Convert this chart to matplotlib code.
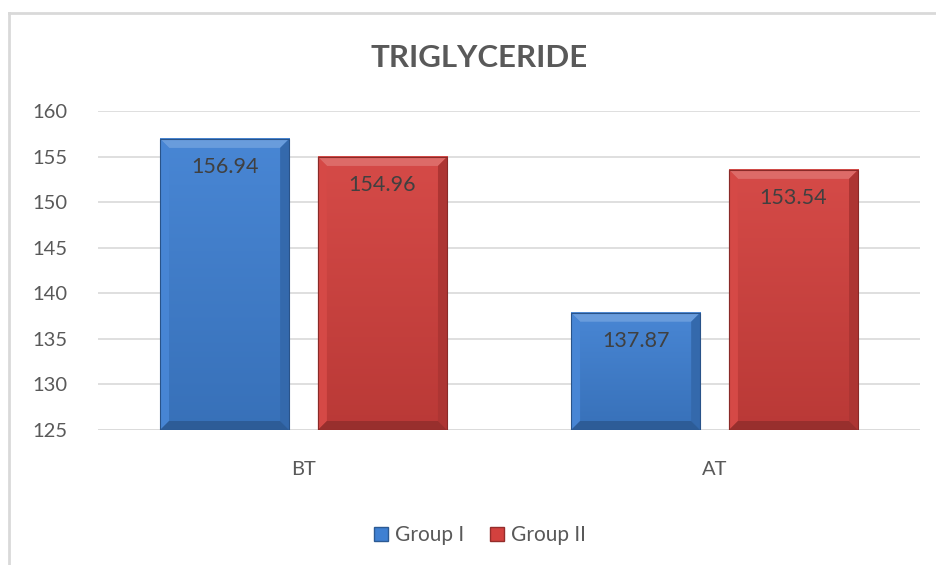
import matplotlib
matplotlib.use('Agg')
import matplotlib.pyplot as plt
import numpy as np
from matplotlib.patches import Polygon, Rectangle
from matplotlib.lines import Line2D
from matplotlib.colors import to_rgb

# Chart data.
categories = ['BT', 'AT']
series_names = ['Group I', 'Group II']
group1 = [156.94, 137.87]
group2 = [154.96, 153.54]
yticks = [125, 130, 135, 140, 145, 150, 155, 160]

FONT = ['Lato', 'DejaVu Sans']
TXT = '#595959'


def mix(c, t, w):
    """Blend colour c towards colour t by weight w."""
    c, t = np.array(to_rgb(c)), np.array(to_rgb(t))
    return tuple(c * (1 - w) + t * w)


def bevel_bar(ax, xc, w, y0, y1, base, px_x, px_y, inset=9):
    """
    Draw a bar with an Excel-like bevel: gradient face plus four bands.
    """
    x0, x1 = xc - w / 2, xc + w / 2
    dx, dy = inset * px_x, inset * px_y
    # Face with a vertical gradient (light on top, darker at the base).
    grad = np.linspace(0, 1, 64).reshape(-1, 1)
    top, bot = np.array(mix(base, 'white', 0.05)), np.array(mix(base, 'black', 0.12))
    img = top[None, None, :] * (1 - grad[:, :, None]) + bot[None, None, :] * grad[:, :, None]
    ax.imshow(img, extent=(x0, x1, y0, y1), aspect='auto', zorder=3,
              interpolation='bilinear', origin='upper')
    # Bevel bands.
    ax.add_patch(Polygon([(x0, y1), (x1, y1), (x1 - dx, y1 - dy), (x0 + dx, y1 - dy)],
                         closed=True, fc=mix(base, 'white', 0.22), ec='none', zorder=4))
    ax.add_patch(Polygon([(x0, y0), (x0, y1), (x0 + dx, y1 - dy), (x0 + dx, y0 + dy)],
                         closed=True, fc=mix(base, 'white', 0.04), ec='none', zorder=4))
    ax.add_patch(Polygon([(x1, y0), (x1, y1), (x1 - dx, y1 - dy), (x1 - dx, y0 + dy)],
                         closed=True, fc=mix(base, 'black', 0.18), ec='none', zorder=4))
    ax.add_patch(Polygon([(x0, y0), (x1, y0), (x1 - dx, y0 + dy), (x0 + dx, y0 + dy)],
                         closed=True, fc=mix(base, 'black', 0.28), ec='none', zorder=4))
    ax.add_patch(Rectangle((x0, y0), w, y1 - y0, fc='none',
                           ec=mix(base, 'black', 0.35), lw=0.8, zorder=5))


def main():
    fig = plt.figure(figsize=(9.36, 5.65), dpi=100)
    ax = fig.add_axes([0.1047, 0.2389, 0.8783, 0.5646])

    ax.set_xlim(-0.5, 1.5)
    ax.set_ylim(yticks[0], yticks[-1])
    # Size of one pixel in data units.
    px_x = 2.0 / (0.8783 * 936)
    px_y = (yticks[-1] - yticks[0]) / (0.5646 * 565)

    colors = ['#3F80D2', '#D3413E']
    width = 0.314
    offset = 0.192
    x = np.arange(len(categories))
    for i, (vals, col) in enumerate(zip([group1, group2], colors)):
        for xi, v in zip(x, vals):
            xc = xi + (-offset if i == 0 else offset)
            bevel_bar(ax, xc, width, yticks[0], v, col, px_x, px_y)
            ax.text(xc, v - 28 * px_y, '%.2f' % v, ha='center', va='center',
                    fontsize=15.5, color='#404040', family=FONT, zorder=6)

    # Gridlines and axes.
    for t in yticks[1:]:
        ax.axhline(t, color='#D9D9D9', lw=1.2, zorder=1)
    ax.axhline(yticks[0], color='#D0D0D0', lw=1.8, zorder=2)
    for s in ax.spines.values():
        s.set_visible(False)
    ax.set_yticks(yticks)
    ax.set_yticklabels([str(t) for t in yticks])
    ax.set_xticks(x)
    ax.set_xticklabels(categories)
    ax.tick_params(length=0, labelsize=14.5, labelcolor=TXT, pad=22)
    ax.tick_params(axis='x', pad=22)
    for lab in ax.get_xticklabels() + ax.get_yticklabels():
        lab.set_family(FONT)

    # Title.
    fig.text(0.512, 0.897, 'TRIGLYCERIDE', ha='center', va='center',
             fontsize=22.5, fontweight='bold', color=TXT, family=FONT)

    # Legend.
    handles = [Line2D([], [], marker='s', ls='none', markersize=10,
                      markerfacecolor=c, markeredgecolor=mix(c, 'black', 0.3))
               for c in colors]
    fig.legend(handles, series_names, loc='center', bbox_to_anchor=(0.511, 0.053),
               ncol=2, frameon=False, handletextpad=0.15, columnspacing=1.1,
               prop={'family': FONT, 'size': 15}, labelcolor=TXT, handlelength=1.0)

    # Chart border (left and top visible).
    fig.add_artist(Line2D([9 / 936, 9 / 936], [0, 1 - 13 / 565], color='#D9D9D9',
                          lw=2, transform=fig.transFigure))
    fig.add_artist(Line2D([9 / 936, 1], [1 - 13 / 565, 1 - 13 / 565], color='#D9D9D9',
                          lw=2, transform=fig.transFigure))

    fig.savefig('out.png', dpi=100, facecolor='white')


if __name__ == '__main__':
    main()
